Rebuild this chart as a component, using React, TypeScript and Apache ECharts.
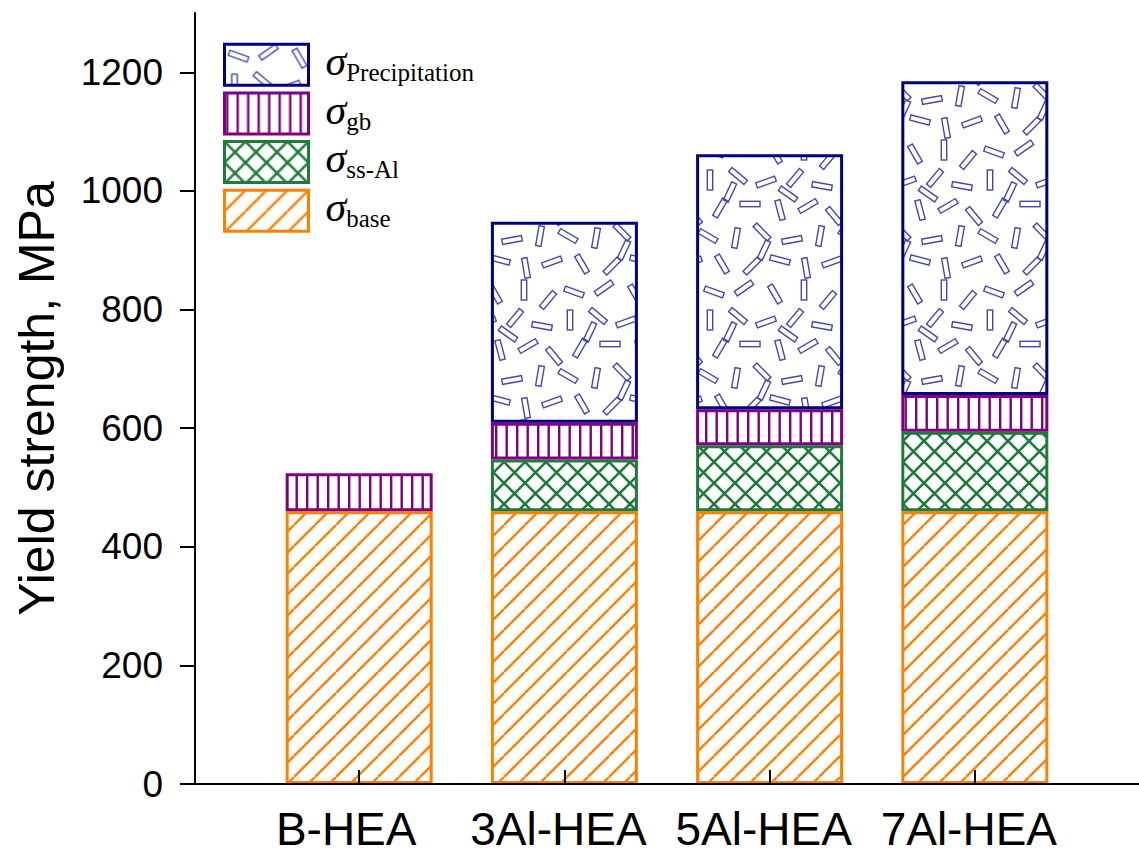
import React, { useEffect, useRef } from 'react';
import * as echarts from 'echarts';

const categories = ['B-HEA', '3Al-HEA', '5Al-HEA', '7Al-HEA'];
const categoryPositions = [1, 2, 3, 4];
const baseValues = [460, 460, 460, 460];
const ssAlValues = [null, 87, 111, 134];
const gbValues = [64, 62, 61, 62];
const precipitationValues = [null, 339, 430, 529];
const yMajorTicks = [0, 200, 400, 600, 800, 1000, 1200];
const yMinorTicks = [100, 300, 500, 700, 900, 1100, 1300];
const legendOrder = ['Precipitation', 'gb', 'ss-Al', 'base'];

const C_BASE = '#ff8000';
const C_SS = '#1f7a3c';
const C_GB = '#800080';
const C_PRE = '#000080';
const C_STICK = '#4848ac';

// decorative texture for precipitation (x, y, angle in degrees) inside a 140x140 tile
const sticks: number[][] = [
  [14, 12, 20], [44, 8, -35], [75, 14, 60], [104, 10, 90], [128, 20, -50],
  [10, 40, 90], [38, 36, 40], [66, 42, -20], [95, 38, 130], [122, 46, 10],
  [20, 68, -60], [50, 64, 0], [80, 70, 75], [108, 66, -30], [134, 76, 50],
  [8, 96, 30], [36, 98, -80], [62, 92, 45], [92, 100, -10], [120, 96, 100],
  [22, 124, 60], [52, 126, -45], [80, 120, 15], [106, 128, 80], [132, 122, -20],
  [30, 52, 115], [88, 54, 35], [64, 110, -65],
];

function tile(w: number, h: number, draw: (ctx: CanvasRenderingContext2D) => void) {
  const c = document.createElement('canvas');
  c.width = w;
  c.height = h;
  const ctx = c.getContext('2d') as CanvasRenderingContext2D;
  draw(ctx);
  return { image: c.toDataURL(), imageWidth: w, imageHeight: h, repeat: 'repeat' } as any;
}

function makePatterns() {
  const s = 21;
  const hatch = tile(s, s, (ctx) => {
    ctx.strokeStyle = C_BASE;
    ctx.lineWidth = 2.4;
    ctx.beginPath();
    for (const k of [-1, 0, 1]) {
      ctx.moveTo(k * s, s);
      ctx.lineTo(k * s + s, 0);
    }
    ctx.stroke();
  });
  const cross = tile(s, s, (ctx) => {
    ctx.strokeStyle = C_SS;
    ctx.lineWidth = 2.6;
    ctx.beginPath();
    for (const k of [-1, 0, 1]) {
      ctx.moveTo(k * s, s);
      ctx.lineTo(k * s + s, 0);
      ctx.moveTo(k * s, 0);
      ctx.lineTo(k * s + s, s);
    }
    ctx.stroke();
  });
  const vert = tile(21, 4, (ctx) => {
    ctx.fillStyle = C_GB;
    ctx.fillRect(1.5, 0, 2.4, 4);
    ctx.fillRect(12, 0, 2.4, 4);
  });
  const T = 140;
  const dots = tile(T, T, (ctx) => {
    ctx.strokeStyle = C_STICK;
    ctx.lineWidth = 1.4;
    for (const [x, y, a] of sticks) {
      for (const dx of [-T, 0, T]) {
        for (const dy of [-T, 0, T]) {
          ctx.save();
          ctx.translate(x + dx, y + dy);
          ctx.rotate((a * Math.PI) / 180);
          ctx.strokeRect(-10, -2.7, 20, 5.4);
          ctx.restore();
        }
      }
    }
  });
  return { hatch, cross, vert, dots };
}

export default function App() {
  const ref = useRef<HTMLDivElement>(null);
  useEffect(() => {
    document.body.style.margin = '0';
    const chart = echarts.init(ref.current!, undefined, { renderer: 'svg' });
    const p = makePatterns();
    const mk = (name: string, values: (number | null)[], fill: any, border: string) => ({
      name,
      type: 'bar',
      stack: 'total',
      barWidth: 147,
      // value first so that the stacked dimension is the y value
      data: categoryPositions.map((x, i) => [values[i], x]),
      encode: { x: 1, y: 0 },
      itemStyle: { color: fill, borderColor: border, borderWidth: 3 },
      emphasis: { disabled: true },
    });
    const axisLine = { show: true, lineStyle: { color: '#000', width: 2 } };
    chart.setOption({
      animation: false,
      grid: { left: 195, top: 13, width: 957, height: 771 },
      legend: {
        orient: 'vertical',
        left: 223,
        top: 40,
        padding: 0,
        itemWidth: 84,
        itemHeight: 41,
        itemGap: 2,
        icon: 'rect',
        selectedMode: false,
        data: legendOrder,
        itemStyle: { borderWidth: 3 },
        formatter: (n: string) => `{s|σ}{sub|${n}}`,
        textStyle: {
          rich: {
            s: {
              fontFamily: 'Liberation Serif',
              fontStyle: 'italic',
              fontSize: 42,
              color: '#000',
              lineHeight: 49.4,
              verticalAlign: 'top',
              padding: [0, 0, 0, 12],
            },
            sub: {
              fontFamily: 'Liberation Serif',
              fontSize: 25,
              color: '#000',
              lineHeight: 20,
              verticalAlign: 'top',
              padding: [20, 0, 0, 0],
            },
          },
        },
      },
      xAxis: [
        {
          type: 'value',
          min: 0.2,
          max: 4.8,
          z: 10,
          axisLine,
          splitLine: { show: false },
          axisTick: {
            show: true,
            inside: true,
            length: 14,
            customValues: categoryPositions,
            lineStyle: { color: '#000', width: 2 },
          },
          axisLabel: {
            customValues: categoryPositions,
            margin: 22,
            formatter: (v: number) => {
              const i = Math.round(v) - 1;
              return i === 0 ? `{b|${categories[i]}}` : `{a|${categories[i]}}`;
            },
            rich: {
              a: { fontFamily: 'Liberation Sans', fontSize: 46, color: '#000', padding: [0, 12, 0, 0] },
              b: { fontFamily: 'Liberation Sans', fontSize: 46, color: '#000', padding: [0, 26, 0, 0] },
            },
          },
        },
        {
          type: 'value',
          position: 'top',
          min: 0.2,
          max: 4.8,
          axisLine,
          axisTick: { show: false },
          axisLabel: { show: false },
          splitLine: { show: false },
        },
      ],
      yAxis: [
        {
          type: 'value',
          min: 0,
          max: 1300,
          z: 10,
          axisLine,
          splitLine: { show: false },
          name: 'Yield strength, MPa',
          nameLocation: 'middle',
          nameGap: 133,
          nameTextStyle: { fontFamily: 'Liberation Sans', fontSize: 50, color: '#000' },
          axisTick: {
            show: true,
            length: 15,
            customValues: yMajorTicks,
            lineStyle: { color: '#000', width: 2 },
          },
          axisLabel: {
            customValues: yMajorTicks,
            margin: 32,
            formatter: (v: number) => String(v),
            fontFamily: 'Liberation Sans',
            fontSize: 37,
            color: '#000',
          },
        },
        {
          type: 'value',
          min: 0,
          max: 1300,
          axisLine: { show: false },
          splitLine: { show: false },
          axisTick: {
            show: true,
            length: 6,
            customValues: yMinorTicks,
            lineStyle: { color: '#000', width: 2 },
          },
          axisLabel: { show: false },
        },
      ],
      series: [
        mk('base', baseValues, p.hatch, C_BASE),
        mk('ss-Al', ssAlValues, p.cross, C_SS),
        mk('gb', gbValues, p.vert, C_GB),
        mk('Precipitation', precipitationValues, p.dots, C_PRE),
      ],
    });
    return () => chart.dispose();
  }, []);
  return <div ref={ref} style={{ width: 1139, height: 854 }} />;
}
